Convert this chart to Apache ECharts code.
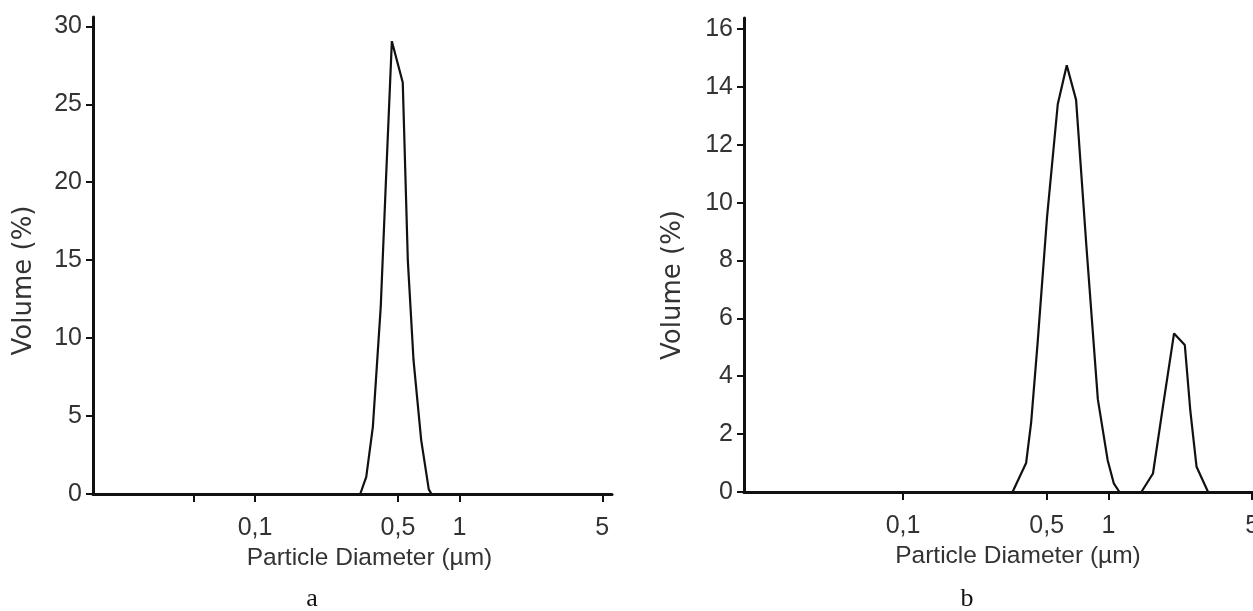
<!DOCTYPE html>
<html>
<head>
<meta charset="utf-8">
<title>Particle size distribution</title>
<script src="https://cdn.jsdelivr.net/npm/echarts@6/dist/echarts.min.js"></script>
<style>
  html, body { margin: 0; padding: 0; background: #fff; }
  #chart { width: 1253px; height: 611px; }
</style>
</head>
<body>
<div id="chart"></div>
<script>
// panel a
const diameterA = [0.327, 0.350, 0.377, 0.412, 0.435, 0.467, 0.528, 0.559, 0.596, 0.650, 0.708, 0.730]
const volumeA = [0, 1.1, 4.3, 12, 19.5, 29.05, 26.4, 15, 8.6, 3.46, 0.3, 0]

// panel b
const diameterB = [0.341, 0.397, 0.42, 0.451, 0.502, 0.566, 0.626, 0.695, 0.78, 0.887, 0.99, 1.06, 1.13,
  1.444, 1.645, 1.834, 2.083, 2.35, 2.5, 2.68, 3.05]
const volumeB = [0, 1.0, 2.4, 5.1, 9.5, 13.4, 14.75, 13.55, 8.5, 3.2, 1.1, 0.3, 0,
  0, 0.64, 2.9, 5.48, 5.08, 2.8, 0.87, 0]

// tick labels
const xTicksA = [0.05, 0.1, 0.5, 1, 5]
const xTicksB = [0.1, 0.5, 1, 5]
const xLabels = [0.1, 0.5, 1, 5]
const yTicksA = [0, 5, 10, 15, 20, 25, 30]
const yTicksB = [0, 2, 4, 6, 8, 10, 12, 14, 16]

const FONT = '"Liberation Sans", Arial, sans-serif'
const NAME_FONT = '"DejaVu Sans", sans-serif'
const textColor = '#333'

const zip = (xs, ys) => xs.map((x, i) => [x, ys[i]])

const xAxisBase = (ticks, min, gridIndex, shift) => ({
  type: 'log',
  logBase: 10,
  gridIndex,
  min,
  max: 5.58,
  name: 'Particle Diameter (\u00b5m)',
  nameLocation: 'middle',
  nameGap: 41,
  nameTextStyle: {
    fontFamily: FONT,
    fontSize: 24.5,
    color: textColor,
    padding: [0, 0, 0, shift]
  },
  axisLine: { lineStyle: { color: '#111', width: 3 } },
  axisTick: {
    customValues: ticks,
    length: 8,
    lineStyle: { color: '#111', width: 2 }
  },
  axisLabel: {
    customValues: xLabels,
    margin: 22,
    fontFamily: FONT,
    fontSize: 25,
    color: textColor,
    formatter: v => String(v).replace('.', ',')
  },
  splitLine: { show: false },
  minorTick: { show: false }
})

const yAxisBase = (ticks, max, gridIndex, gap, shift) => ({
  type: 'value',
  gridIndex,
  min: 0,
  max,
  name: 'Volume (%)',
  nameLocation: 'middle',
  nameGap: gap,
  nameTextStyle: {
    fontFamily: NAME_FONT,
    fontSize: 26,
    color: textColor,
    padding: [0, shift, 0, 0]
  },
  axisLine: { show: true, lineStyle: { color: '#111', width: 3 } },
  axisTick: {
    show: true,
    customValues: ticks,
    length: 7,
    lineStyle: { color: '#111', width: 2 }
  },
  axisLabel: {
    customValues: ticks,
    margin: 11,
    fontFamily: FONT,
    fontSize: 25,
    color: textColor
  },
  splitLine: { show: false }
})

const lineSeries = (data, idx) => ({
  type: 'line',
  xAxisIndex: idx,
  yAxisIndex: idx,
  data,
  showSymbol: false,
  smooth: false,
  silent: true,
  lineStyle: { color: '#111', width: 2.2 },
  z: 3
})

const myChart = echarts.init(document.getElementById('chart'))

const option = {
  animation: false,
  backgroundColor: '#fff',
  grid: [
    { left: 93, top: 17, width: 519, height: 477, outerBoundsMode: 'none' },
    { left: 744, top: 18, width: 518, height: 474, outerBoundsMode: 'none' }
  ],
  xAxis: [
    xAxisBase(xTicksA, 0.0161, 0, 34),
    xAxisBase(xTicksB, 0.01683, 1, 30)
  ],
  yAxis: [
    yAxisBase(yTicksA, 30.6, 0, 56, 50),
    yAxisBase(yTicksB, 16.38, 1, 58, 60)
  ],
  series: [
    lineSeries(zip(diameterA, volumeA), 0),
    lineSeries(zip(diameterB, volumeB), 1)
  ],
  graphic: [
    {
      type: 'text', x: 312, y: 599,
      style: { text: 'a', font: '26px "Liberation Serif", serif', fill: '#111', textAlign: 'center', textVerticalAlign: 'middle' }
    },
    {
      type: 'text', x: 967, y: 599,
      style: { text: 'b', font: '26px "Liberation Serif", serif', fill: '#111', textAlign: 'center', textVerticalAlign: 'middle' }
    }
  ]
}

myChart.setOption(option)

window.addEventListener('resize', () => {
  myChart.resize()
})
</script>
</body>
</html>
